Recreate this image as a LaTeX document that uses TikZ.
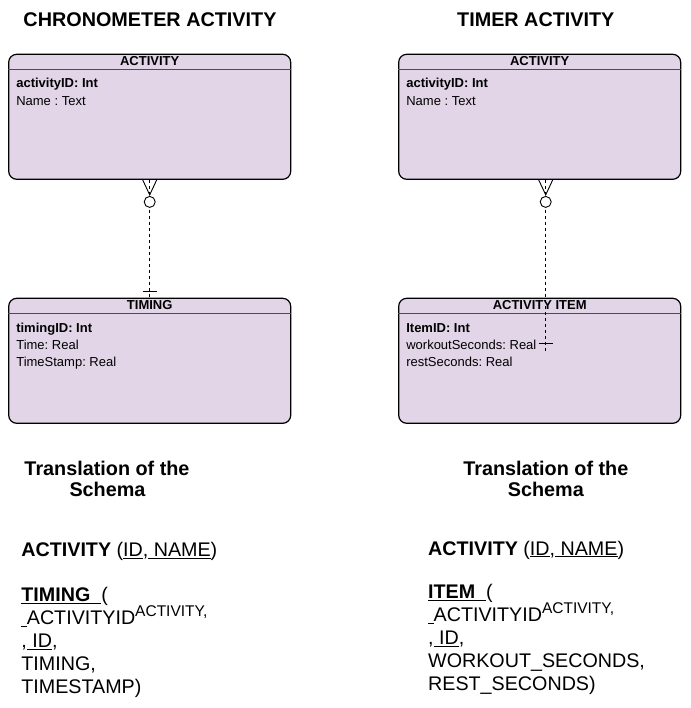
\documentclass[tikz,border=0pt]{standalone}
\usepackage{fontspec}
\setmainfont{Liberation Sans}
\usetikzlibrary{calc}
\definecolor{entfill}{HTML}{E1D5E7}
\newcommand{\supsz}[1]{\raisebox{8.5pt}{\fontsize{15.5}{17}\selectfont #1}}
\begin{document}
\frenchspacing
\begin{tikzpicture}[x=1pt,y=-1pt,
  entity/.style={draw=black, fill=entfill, line width=1.2pt, rounded corners=8pt,
                 minimum width=282pt, minimum height=125pt, inner sep=0pt},
  hdrline/.style={line width=1.4pt, draw=black!70},
  hdr/.style={font=\fontsize{13}{15}\selectfont\bfseries, anchor=base, inner sep=0pt},
  attr/.style={font=\fontsize{13}{15}\selectfont, anchor=base west, inner sep=0pt},
  title/.style={font=\fontsize{19.8}{22}\selectfont\bfseries, anchor=base, inner sep=0pt},
  rel/.style={font=\fontsize{19.7}{22}\selectfont, anchor=base west, inner sep=0pt},
  conn/.style={line width=0.9pt, dash pattern=on 3pt off 3pt},
  foot/.style={line width=0.9pt}
]
\useasboundingbox (0,0) rectangle (690,708);

% titles
\node[title] (t1) at (150,26.7) {CHRONOMETER ACTIVITY};
\node[title] (t2) at (535.8,26.7) {TIMER ACTIVITY};

% left entities
\node[entity] (act1) at (149.7,116.8) {};
\draw[hdrline] ($(act1.north west)+(0,16)$) -- ($(act1.north east)+(0,16)$);
\node[hdr] (act1h) at ($(act1.north)+(0,11.7)$) {ACTIVITY};
\node[attr] (act1a) at ($(act1.north west)+(8,33.4)$) {\bfseries activityID: Int};
\node[attr] (act1b) at ($(act1.north west)+(8,51.4)$) {Name : Text};

\node[entity] (tim) at (149.7,360.8) {};
\draw[hdrline] ($(tim.north west)+(0,16)$) -- ($(tim.north east)+(0,16)$);
\node[hdr] (timh) at ($(tim.north)+(0,12.2)$) {TIMING};
\node[attr] (tima) at ($(tim.north west)+(8,35)$) {\bfseries timingID: Int};
\node[attr] (timb) at ($(tim.north west)+(8,52)$) {Time: Real};
\node[attr] (timc) at ($(tim.north west)+(8,69)$) {TimeStamp: Real};

% right entities
\node[entity] (act2) at (539.7,116.8) {};
\draw[hdrline] ($(act2.north west)+(0,16)$) -- ($(act2.north east)+(0,16)$);
\node[hdr] (act2h) at ($(act2.north)+(0,11.7)$) {ACTIVITY};
\node[attr] (act2a) at ($(act2.north west)+(8,33.4)$) {\bfseries activityID: Int};
\node[attr] (act2b) at ($(act2.north west)+(8,51.4)$) {Name : Text};

\node[entity] (item) at (539.7,360.8) {};
\draw[hdrline] ($(item.north west)+(0,16)$) -- ($(item.north east)+(0,16)$);
\node[hdr] (itemh) at ($(item.north)+(0,12.2)$) {ACTIVITY ITEM};
\node[attr] (itema) at ($(item.north west)+(8,35)$) {\bfseries ItemID: Int};
\node[attr] (itemb) at ($(item.north west)+(8,52)$) {workoutSeconds: Real};
\node[attr] (itemc) at ($(item.north west)+(8,69)$) {restSeconds: Real};

% left connector
\coordinate (s1) at (act1.south);
\coordinate (e1) at (tim.north);
\draw[conn] (s1) -- (e1);
\draw[foot] ($(s1)+(-7,0)$) -- ($(s1)+(0,15)$) -- ($(s1)+(7,0)$);
\draw[foot, fill=white] ($(s1)+(0,22)$) circle[radius=5.5pt];
\draw[foot] ($(e1)+(-7,-6.5)$) -- ($(e1)+(7,-6.5)$);

% right connector
\coordinate (s2) at ($(act2.south)+(6,0)$);
\coordinate (e2) at ($(item.north)+(6,53)$);
\draw[conn] (s2) -- (e2);
\draw[foot] ($(s2)+(-7,0)$) -- ($(s2)+(0,15)$) -- ($(s2)+(7,0)$);
\draw[foot, fill=white] ($(s2)+(0,22)$) circle[radius=5.5pt];
\draw[foot] ($(e2)+(-7,-7)$) -- ($(e2)+(7,-7)$);

% translation headings
\node[title] (tr1a) at (107,475) {Translation of the};
\node[title] (tr1b) at (107.5,496.7) {Schema};
\node[title] (tr2a) at (545.8,475) {Translation of the};
\node[title] (tr2b) at (545.8,496.7) {Schema};

% left relations
\node[rel] (l1) at (21.2,556.5) {\textbf{ACTIVITY} (\underline{ID},\underline{ NAME})};
\node[rel] (l2) at (21.2,601.5) {\underline{\textbf{TIMING\ \ }}(};
\node[rel] (l3) at (21.2,624.5) {\underline{\ }ACTIVITYID\supsz{ACTIVITY,}};
\node[rel] (l4) at (21.2,647.5) {,\underline{ ID},};
\node[rel] (l5) at (21.2,670.5) {TIMING,};
\node[rel] (l6) at (21.2,693.5) {TIMESTAMP)};

% right relations
\node[rel] (r1) at (428,555) {\textbf{ACTIVITY} (\underline{ID},\underline{ NAME})};
\node[rel] (r2) at (428,598.5) {\underline{\textbf{ITEM\ \ }}(};
\node[rel] (r3) at (428,621.5) {\underline{\ }ACTIVITYID\supsz{ACTIVITY,}};
\node[rel] (r4) at (428,644.5) {,\underline{ ID},};
\node[rel] (r5) at (428,667.5) {WORKOUT\_SECONDS,};
\node[rel] (r6) at (428,690.5) {REST\_SECONDS)};
\end{tikzpicture}
\end{document}
